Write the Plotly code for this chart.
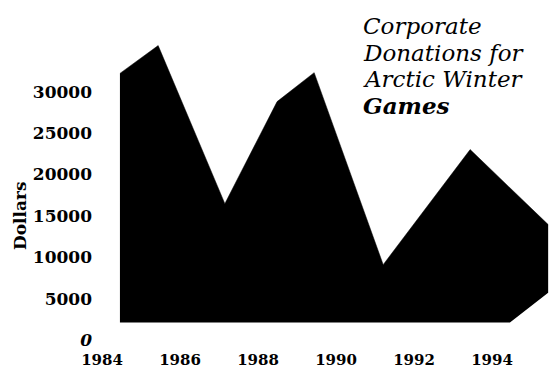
import plotly.graph_objects as go

# Upper edge of the filled area (year, dollars)
upper_years = [1984.46, 1985.44, 1987.15, 1988.49, 1989.44, 1991.21, 1993.44, 1995.44]
upper_dollars = [32200, 35560, 16470, 28790, 32290, 9100, 23000, 13940]

# Lower edge of the filled area
lower_years = [1984.46, 1994.46, 1995.44]
lower_dollars = [2100, 2100, 5700]

x_ticks = [1984, 1986, 1988, 1990, 1992, 1994]
x_ticklabels = ["1984", "1986", "1988", "1990", "1992", "1994"]
y_ticks = [0, 5000, 10000, 15000, 20000, 25000, 30000]
y_ticklabels = ["<i>0</i>", "5000", "10000", "15000", "20000", "25000", "30000"]

title_lines = ["<i>Corporate</i>", "<i>Donations for</i>", "<i>Arctic Winter</i>", "<b><i>Games</i></b>"]

W, H = 552, 368
ML, MR, MT, MB = 102, 0, 0, 28
SERIF = "DejaVu Serif"

fig = go.Figure()
fig.add_trace(go.Scatter(x=lower_years, y=lower_dollars, mode="lines",
                         line=dict(width=0, color="black"), showlegend=False,
                         hoverinfo="skip"))
fig.add_trace(go.Scatter(x=upper_years, y=upper_dollars, mode="lines",
                         line=dict(width=0.5, color="black"), fill="tonexty",
                         fillcolor="black", showlegend=False))

plot_h = H - MT - MB
plot_w = W - ML - MR

def py_to_paper(py):
    return 1 - (py - MT) / plot_h

def px_to_paper(px):
    return (px - ML) / plot_w

title_centers = [26, 52.5, 79, 105.5]
for txt, cy in zip(title_lines, title_centers):
    fig.add_annotation(text=txt, xref="paper", yref="paper",
                       x=px_to_paper(361), y=py_to_paper(cy),
                       xanchor="left", yanchor="middle", showarrow=False,
                       font=dict(family=SERIF, size=23, color="black"))

fig.add_annotation(text="<b>Dollars</b>", xref="paper", yref="paper",
                   x=px_to_paper(20), y=py_to_paper(216), xanchor="center",
                   yanchor="middle", textangle=-90, showarrow=False,
                   font=dict(family=SERIF, size=17, color="black"))

fig.update_layout(
    width=W, height=H,
    margin=dict(l=ML, r=MR, t=MT, b=MB, pad=0),
    paper_bgcolor="white", plot_bgcolor="white",
    xaxis=dict(range=[1984, 1984 + plot_w / 39.0], tickvals=x_ticks,
               ticktext=x_ticklabels, showgrid=False, zeroline=False,
               showline=False, ticks="", ticklabelstandoff=9, automargin=False,
               tickfont=dict(family=SERIF, size=15, color="black", weight="bold")),
    yaxis=dict(range=[0, plot_h / 8.28 * 1000], tickvals=y_ticks,
               ticktext=y_ticklabels, showgrid=False, zeroline=False,
               showline=False, ticks="", ticklabelstandoff=9, automargin=False,
               tickfont=dict(family=SERIF, size=17, color="black", weight="bold")),
)

fig.write_html("out.html")
